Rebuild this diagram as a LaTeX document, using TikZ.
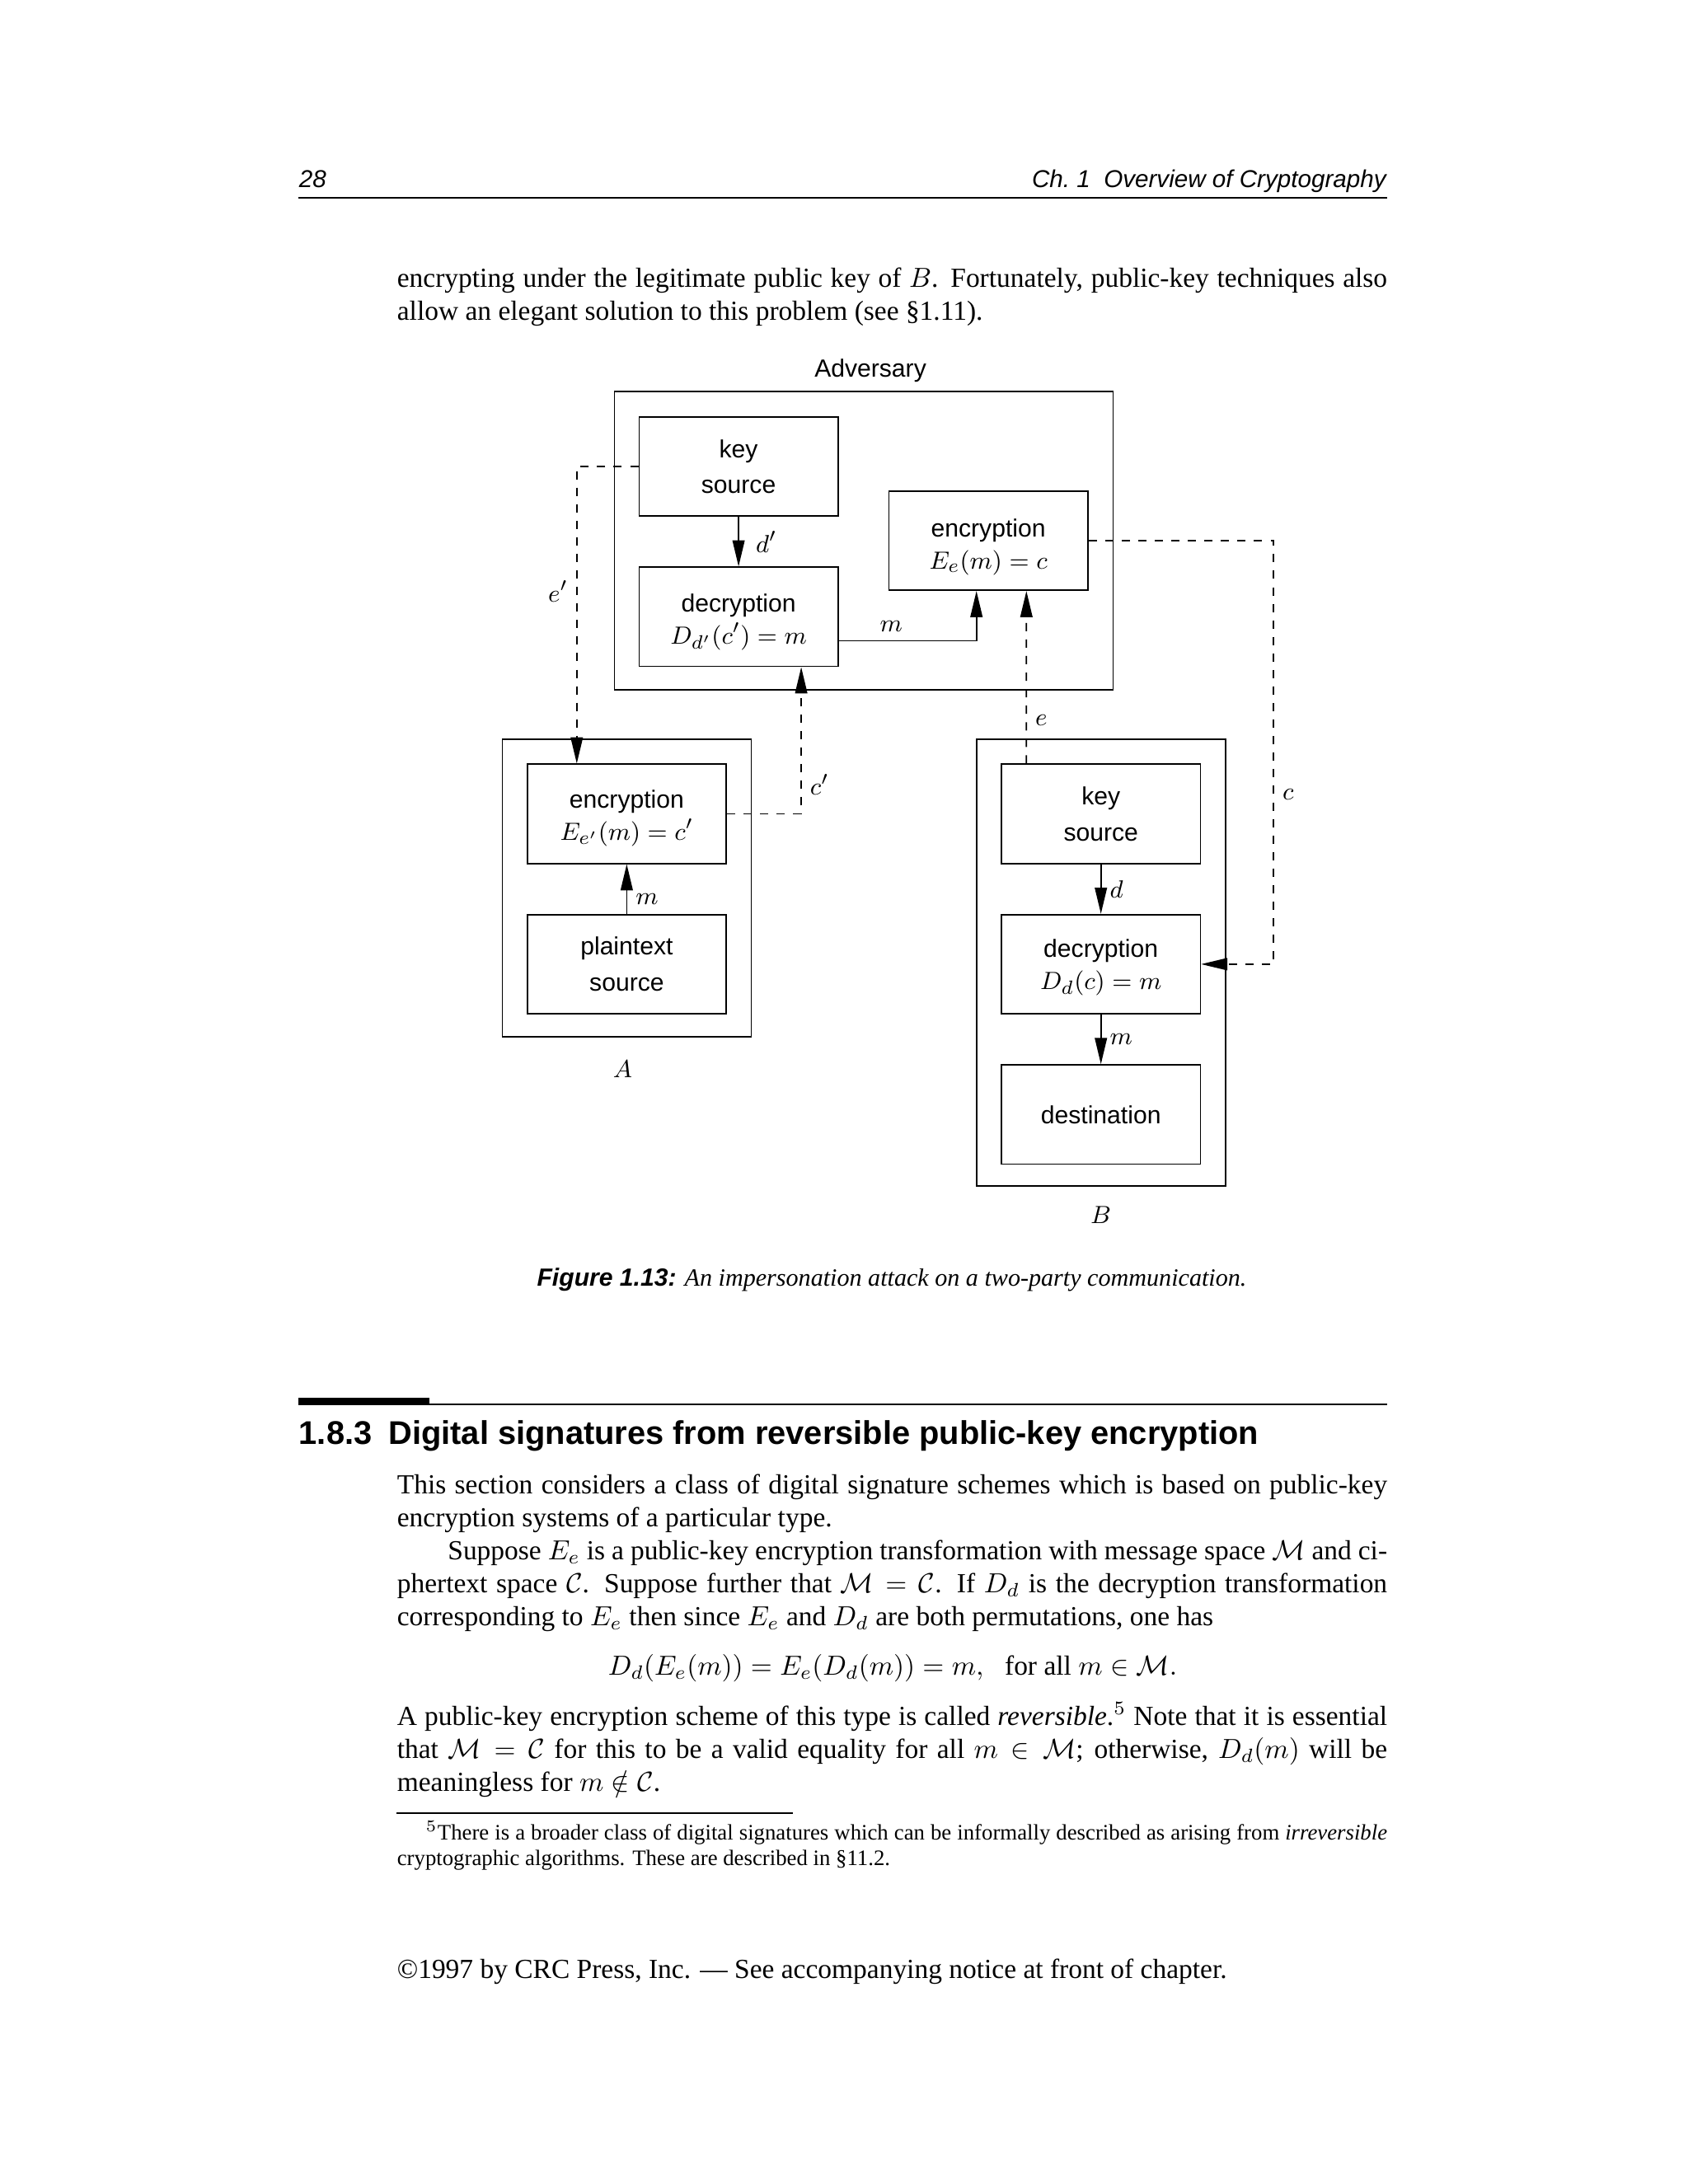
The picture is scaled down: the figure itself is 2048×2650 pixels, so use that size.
\documentclass[tikz,border=0pt]{standalone}
\usepackage{amsmath,amssymb}
\usepackage{fontspec}
\setmainfont{Liberation Serif}
\setsansfont{Liberation Sans}
\usetikzlibrary{positioning,%
  arrows.meta,%
  calc%
}

\newcommand{\boxm}[1]{{\fontsize{9.5}{13}\selectfont$#1$}}
\newcommand{\boxlines}[3][11.3pt]{\rule{0pt}{#1}#2\\[-1.3pt]\boxm{#3}}

\begin{document}
\begin{tikzpicture}
  [
    x=0.298828pt, y=-0.298828pt,
    every path/.style={line width=0.5pt},
    box/.style={draw, minimum width=72.15pt, minimum height=36pt, inner sep=0pt, align=center, font=\fontsize{9}{13}\selectfont\sffamily},
    frame/.style={draw, inner sep=0pt},
    flow/.style={-{Triangle[length=9.5pt,width=4.4pt]}},
    keyflow/.style={flow, dash pattern=on 3pt off 3pt},
    lbl/.style={inner sep=3pt, font=\fontsize{9.5}{11}\selectfont},
    bodytext/.style={anchor=base west, inner sep=0pt, text width=359pt, align=justify, font=\fontsize{10}{12}\selectfont},
    node distance=18pt
  ]

  % Seite
  \fill[white] (0,0) rectangle (2048,2650);
  \useasboundingbox (0,0) rectangle (2048,2650);

  % Kopfzeile
  \node[anchor=base west, inner sep=0pt, font=\fontsize{8.85}{11}\selectfont\sffamily\itshape] (pageno) at (362,227) {28};
  \node[anchor=base east, inner sep=0pt, font=\fontsize{8.85}{11}\selectfont\sffamily\itshape] (running) at (1682.5,227) {Ch.~1~~Overview of Cryptography};
  \draw[line width=0.8pt] (362,240) -- (1682.5,240);

  \node[bodytext] (para0) at (481,348) {encrypting under the legitimate public key of $B$. Fortunately, public-key techniques also\linebreak allow an elegant solution to this problem (see \S1.11).};

  % Gegner
  \node[frame, minimum width=180.8pt, minimum height=108.2pt] (adv) at (1048,656) {};
  \node[font=\fontsize{9}{11}\selectfont\sffamily, inner sep=0pt, above=2.8pt of adv, xshift=2.4pt] (advname) {Adversary};
  \node[box] (advenc) at (1199.1,656) {\boxlines{encryption}{E_e(m)=c}};
  \node[box] (advkey) at (896.1,566) {key\\source};
  \node[box, below=of advkey] (advdec) {\boxlines[10.3pt]{decryption}{D_{d'}(c')=m}};

  % A
  \node[frame, minimum width=90.25pt, minimum height=108pt] (partA) at (760.4,1077.5) {};
  \node[box] (aenc) at (760.4,987.5) {\boxlines[9.5pt]{encryption}{E_{e'}(m)=c'}};
  \node[box, below=of aenc] (aplain) {plaintext\\source};
  \node[lbl, inner sep=0pt, below=8pt of partA, xshift=-1.5pt] (nameA) {$A$};

  % B
  \node[frame, minimum width=90.25pt, minimum height=162pt] (partB) at (1335.7,1168) {};
  \node[box] (bkey) at (1335.7,987.5) {key\\source};
  \node[box, below=of bkey] (bdec) {\boxlines[8.8pt]{decryption}{D_d(c)=m}};
  \node[box, below=of bdec] (bdest) {destination};
  \node[lbl, inner sep=0pt, below=7pt of partB] (nameB) {$B$};

  % Verbindungen
  \draw[flow] (advkey) -- node[lbl, right=3pt] {$d'$} (advdec);
  \draw[flow] ($(advdec.east)+(0,29)$) -| node[lbl, above, pos=0.19] {$m$} ($(advenc.south)+(-14.4,0)$);
  \draw[keyflow] ($(bkey.north)+(-90.4,0)$) -- node[lbl, right, pos=0.25] {$e$} ($(advenc.south)+(46.2,0)$);
  \draw[keyflow] (advkey.west) -| node[lbl, left, pos=0.71] {$e'$} ($(aenc.north)+(-60.6,0)$);
  \draw[keyflow] (aenc.east) -| node[lbl, right, pos=0.6] {$c'$} ($(advdec.south)+(76,0)$);
  \draw[keyflow] (advenc.east) -- ++(224.6,0) |- node[lbl, right, pos=0.3] {$c$} (bdec.east);
  \draw[flow] (aplain) -- node[lbl, right, pos=0.3] {$m$} (aenc);
  \draw[flow] (bkey) -- node[lbl, right] {$d$} (bdec);
  \draw[flow] (bdec) -- node[lbl, right] {$m$} (bdest);

  \node[anchor=base, inner sep=0pt, font=\fontsize{9}{11}\selectfont] (caption) at (1082,1560) {{\sffamily\bfseries\itshape Figure 1.13:} \textit{An impersonation attack on a two-party communication.}};

  % Abschnitt
  \fill (362,1696) rectangle (521,1705);
  \draw[line width=0.8pt] (362,1704) -- (1682.5,1704);
  \node[anchor=base west, inner sep=0pt, font=\fontsize{11.9}{14}\selectfont\sffamily\bfseries] (sectitle) at (362,1752) {1.8.3\hspace{6pt}Digital signatures from reversible public-key encryption};

  \node[bodytext] (para1) at (481,1812) {This section considers a class of digital signature schemes which is based on public-key\linebreak encryption systems of a particular type.\par
    \hspace*{18.4pt}Suppose $E_e$ is a public-key encryption transformation with message space $\mathcal{M}$ and ci-\linebreak phertext space $\mathcal{C}$. Suppose further that $\mathcal{M}=\mathcal{C}$. If $D_d$ is the decryption transformation\linebreak corresponding to $E_e$ then since $E_e$ and $D_d$ are both permutations, one has};

  \node[anchor=base, inner sep=0pt, font=\fontsize{10}{12}\selectfont] (eqn) at (1083,2032) {$D_d(E_e(m)) = E_e(D_d(m)) = m,\hspace{6pt}\mbox{for all } m \in \mathcal{M}.$};

  \node[bodytext] (para2) at (481,2093) {A public-key encryption scheme of this type is called \textit{reversible}.$^5$ Note that it is essential\linebreak that $\mathcal{M}=\mathcal{C}$ for this to be a valid equality for all $m\in\mathcal{M}$; otherwise, $D_d(m)$ will be\linebreak meaningless for $m\notin\mathcal{C}$.};

  % Fussnote
  \draw[line width=0.6pt] (481,2200) -- (962,2200);
  \node[bodytext, font=\fontsize{8}{9.3}\selectfont] (fnote) at (481,2232) {\hspace*{10.5pt}$^5$There is a broader class of digital signatures which can be informally described as arising from \textit{irreversible}\linebreak cryptographic algorithms. These are described in \S11.2.};

  \node[anchor=base west, inner sep=0pt, font=\fontsize{10}{12}\selectfont] (copyright) at (481,2400) {\textcopyright1997 by CRC Press, Inc. --- See accompanying notice at front of chapter.};
\end{tikzpicture}
\end{document}
